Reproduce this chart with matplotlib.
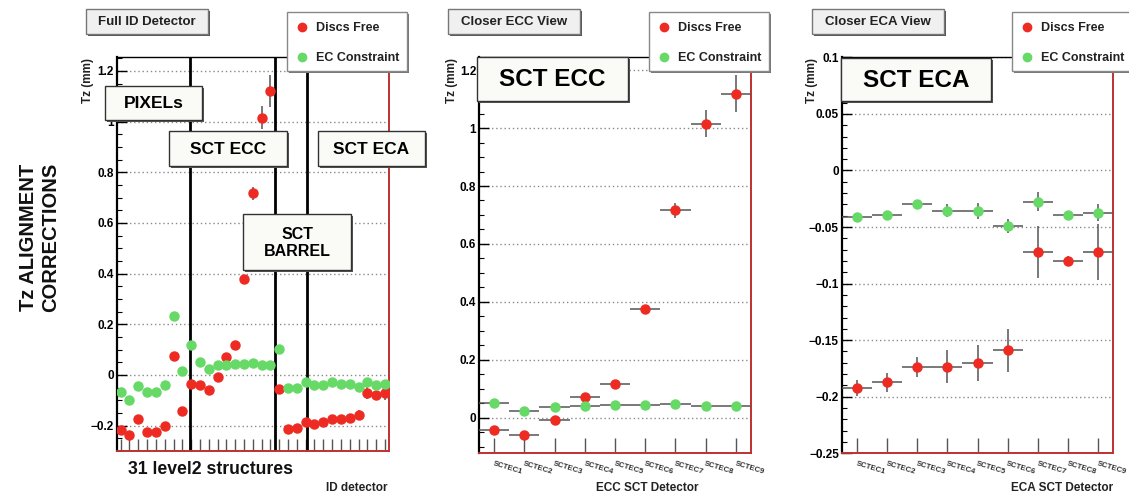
import matplotlib.pyplot as plt
from matplotlib.patches import Rectangle
from matplotlib.lines import Line2D
from matplotlib.ticker import MultipleLocator, FuncFormatter

plt.rcParams['font.family'] = ['Liberation Sans', 'DejaVu Sans']

W, H = 1129, 495

series_names = ['Discs Free', 'EC Constraint']
disc_labels = ['SCTEC1', 'SCTEC2', 'SCTEC3', 'SCTEC4', 'SCTEC5',
               'SCTEC6', 'SCTEC7', 'SCTEC8', 'SCTEC9']

# Pixel level2 structures (9)
pix_free = [-0.216, -0.235, -0.172, -0.226, -0.226, -0.200, 0.076, -0.142, -0.036]
pix_free_err = [0.004, 0.004, 0.004, 0.004, 0.004, 0.004, 0.004, 0.004, 0.004]
pix_ec = [-0.068, -0.097, -0.042, -0.068, -0.068, -0.040, 0.234, 0.014, 0.118]
pix_ec_err = [0.003, 0.003, 0.003, 0.003, 0.003, 0.003, 0.003, 0.003, 0.003]

# SCT end-cap C discs (9)
ecc_free = [-0.040, -0.059, -0.006, 0.071, 0.117, 0.377, 0.717, 1.015, 1.119]
ecc_free_err = [0.004, 0.004, 0.004, 0.004, 0.004, 0.005, 0.026, 0.046, 0.063]
ecc_ec = [0.053, 0.024, 0.039, 0.041, 0.045, 0.044, 0.048, 0.041, 0.040]
ecc_ec_err = [0.003, 0.003, 0.003, 0.003, 0.003, 0.003, 0.003, 0.003, 0.003]

# SCT barrel layers (4)
bar_free = [-0.054, -0.213, -0.209, -0.187]
bar_free_err = [0.004, 0.004, 0.004, 0.004]
bar_ec = [0.104, -0.053, -0.050, -0.029]
bar_ec_err = [0.003, 0.003, 0.003, 0.003]

# SCT end-cap A discs (9)
eca_free = [-0.192, -0.187, -0.1735, -0.1735, -0.170, -0.159, -0.072, -0.080, -0.072]
eca_free_err = [0.007, 0.0084, 0.009, 0.0147, 0.016, 0.019, 0.023, 0.0047, 0.025]
eca_ec = [-0.0413, -0.039, -0.0295, -0.0355, -0.036, -0.049, -0.0275, -0.039, -0.0372]
eca_ec_err = [0.002, 0.002, 0.002, 0.006, 0.0068, 0.0063, 0.0084, 0.002, 0.0078]

id_free = pix_free + ecc_free + bar_free + eca_free
id_free_err = pix_free_err + ecc_free_err + bar_free_err + eca_free_err
id_ec = pix_ec + ecc_ec + bar_ec + eca_ec
id_ec_err = pix_ec_err + ecc_ec_err + bar_ec_err + eca_ec_err

RED = '#ee2b22'
GREEN = '#66d966'
FRAME_RED = '#c03030'

fig = plt.figure(figsize=(W / 100, H / 100), dpi=100)


def px_axes(x0, y0, x1, y1):
    return fig.add_axes([x0 / W, 1 - y1 / H, (x1 - x0) / W, (y1 - y0) / H])


def fmt(v, p):
    s = '%g' % round(v, 3)
    return s.replace('-', '\u2212')


def style(ax, major, minor, xtick_len):
    for s in ['left', 'top']:
        ax.spines[s].set_color('black')
    ax.spines['left'].set_linewidth(1.6)
    ax.spines['top'].set_linewidth(1.0)
    for s in ['right', 'bottom']:
        ax.spines[s].set_color(FRAME_RED)
        ax.spines[s].set_linewidth(1.4)
    ax.yaxis.set_major_locator(MultipleLocator(major))
    ax.yaxis.set_minor_locator(MultipleLocator(minor))
    ax.yaxis.set_major_formatter(FuncFormatter(fmt))
    ax.tick_params(axis='y', which='major', direction='in', length=7, width=1,
                   labelsize=8.5, pad=2)
    ax.tick_params(axis='y', which='minor', direction='in', length=3.5, width=0.8)
    ax.tick_params(axis='x', which='major', direction='in', length=xtick_len,
                   width=1, color='#555555')
    ax.grid(axis='y', which='major', color='#8a8a8a', linestyle=(0, (1, 2)), lw=1)
    for lab in ax.get_yticklabels():
        lab.set_fontweight('bold')


def draw_series(ax, x, free, free_err, ec, ec_err, xerr):
    ax.errorbar(x, free, yerr=free_err, xerr=xerr, fmt='o', color=RED, mec=RED,
                ms=6.5, ecolor='#555555', elinewidth=1.1, capsize=0, zorder=3)
    ax.errorbar(x, ec, yerr=ec_err, xerr=xerr, fmt='o', color=GREEN, mec=GREEN,
                ms=6.5, ecolor='#555555', elinewidth=1.1, capsize=0, zorder=3)


# ---- left: full ID
ax1 = px_axes(116.7, 57, 388.5, 451)
x_id = list(range(len(id_free)))
draw_series(ax1, x_id, id_free, id_free_err, id_ec, id_ec_err, None)
ax1.set_xlim(-0.45, 30.4)
ax1.set_ylim(-0.3, 1.255)
style(ax1, 0.2, 0.05, 9)
ax1.set_xticks(x_id)
ax1.set_xticklabels([])
for xv in [7.88, 17.5, 21.15]:
    ax1.axvline(xv, color='black', lw=2, zorder=2)

# ---- middle: ECC
ax2 = px_axes(479, 56.7, 751, 453.3)
x_d = list(range(len(disc_labels)))
draw_series(ax2, x_d, ecc_free, ecc_free_err, ecc_ec, ecc_ec_err, 0.5)
ax2.set_xlim(-0.5, 8.5)
ax2.set_ylim(-0.122, 1.246)
style(ax2, 0.2, 0.05, 11)

# ---- right: ECA
ax3 = px_axes(841.7, 57.3, 1113.3, 453.3)
draw_series(ax3, x_d, eca_free, eca_free_err, eca_ec, eca_ec_err, 0.5)
ax3.set_xlim(-0.5, 8.5)
ax3.set_ylim(-0.25, 0.1)
style(ax3, 0.05, 0.01, 11)

for ax in [ax2, ax3]:
    ax.set_xticks(x_d)
    ax.set_xticklabels(disc_labels, rotation=-17, ha='left', va='top',
                       rotation_mode='anchor', fontsize=5.6, fontweight='bold',
                       color='#333333')
    ax.tick_params(axis='x', pad=5)


# ---- figure-level boxes and labels
def box(x0, y0, x1, y1, face='white', edge='#444444', shadow='#666666', lw=1.0):
    if shadow:
        fig.add_artist(Rectangle((x0 / W + 2.0 / W, 1 - y1 / H - 2.0 / H),
                                 (x1 - x0) / W, (y1 - y0) / H,
                                 transform=fig.transFigure, facecolor=shadow,
                                 edgecolor='none', zorder=5))
    fig.add_artist(Rectangle((x0 / W, 1 - y1 / H), (x1 - x0) / W, (y1 - y0) / H,
                             transform=fig.transFigure, facecolor=face,
                             edgecolor=edge if edge else 'none', lw=lw, zorder=6))


def ftext(x, y, s, **kw):
    kw.setdefault('ha', 'center')
    kw.setdefault('va', 'center')
    kw.setdefault('fontweight', 'bold')
    kw.setdefault('zorder', 7)
    fig.text(x / W, 1 - y / H, s, **kw)


# title boxes
for (x0, x1), title in zip([(86, 208), (448, 580), (812, 944)],
                           ['Full ID Detector', 'Closer ECC View', 'Closer ECA View']):
    box(x0, 9, x1, 34, face='#f0f0f0', edge='#777777', shadow='#555555')
    ftext((x0 + x1) / 2, 22, title, fontsize=9.5, color='#222222')

# legends
for lx0 in [287, 649, 1012]:
    box(lx0, 12, lx0 + 120, 71, face='white', edge='#888888', shadow='#777777')
    for yy, name, col in zip([27, 57], series_names, [RED, GREEN]):
        fig.add_artist(Line2D([(lx0 + 15) / W], [1 - yy / H], marker='o', ms=6,
                              color=col, mec=col, ls='none',
                              transform=fig.transFigure, zorder=7))
        ftext(lx0 + 29, yy + 1, name, ha='left', fontsize=9, color='#222222')

# region labels
for (x0, y0, x1, y1), s, fs in [((105, 86, 202, 120), 'PIXELs', 12.5),
                                ((169, 131, 287, 166), 'SCT ECC', 12.5),
                                ((318, 131, 425, 166), 'SCT ECA', 12.5),
                                ((243, 214, 351, 270), 'SCT\nBARREL', 11.5),
                                ((477, 57, 628, 101), 'SCT ECC', 17.5),
                                ((841, 58, 991, 101), 'SCT ECA', 17.5)]:
    box(x0, y0, x1, y1, face='#fafaf7', edge='#333333', shadow='#555555')
    ftext((x0 + x1) / 2, (y0 + y1) / 2 + 1, s, fontsize=fs, color='black',
          linespacing=1.2)

box(103, 452, 318, 487, face='white', edge=None, shadow=None)
ftext(210, 470, '31 level2 structures', fontsize=12.7, color='#111111')

ftext(388, 488, 'ID detector', ha='right', fontsize=8.5, color='#222222')
ftext(699, 488, 'ECC SCT Detector', ha='right', fontsize=8.5, color='#222222')
ftext(1113, 488, 'ECA SCT Detector', ha='right', fontsize=8.5, color='#222222')

for xl in [87.5, 452, 812.5]:
    ftext(xl, 58, 'Tz (mm)', va='top', rotation=90, fontsize=8.5, color='#222222')

ftext(40, 237, 'Tz ALIGNMENT\nCORRECTIONS', rotation=90, fontsize=14.5,
      multialignment='center', color='#111111')

fig.savefig('out.png', dpi=100, facecolor='white')
